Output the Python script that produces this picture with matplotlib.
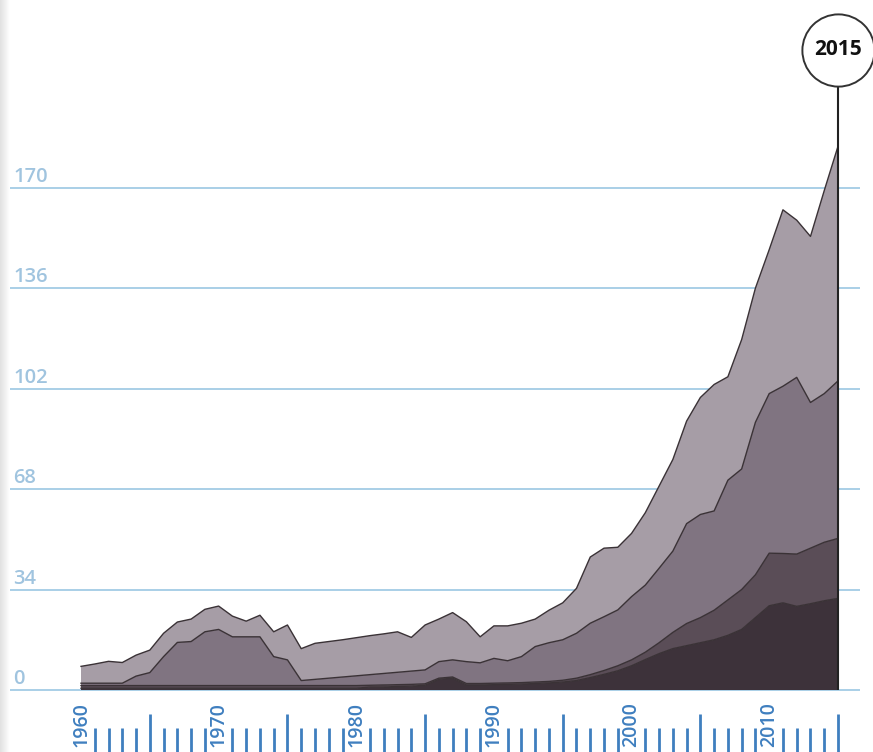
import numpy as np
import matplotlib
matplotlib.use('Agg')
import matplotlib.pyplot as plt

# data, one value per year, stacked bottom -> top
years = list(range(1960, 2016))

layer1 = [0.6, 0.6, 0.6, 0.6, 0.6, 0.6, 0.6, 0.6, 0.6, 0.6,
          0.6, 0.6, 0.6, 0.6, 0.6, 0.6, 0.6, 0.6, 0.6, 0.6,
          0.6, 1.0, 1.0, 1.2, 1.3, 1.6, 3.6, 4.0, 1.7, 1.7,
          1.8, 1.9, 2.0, 2.2, 2.4, 2.7, 3.2, 4.2, 5.3, 6.5,
          8.2, 10.3, 12.3, 14.0, 15.0, 16.0, 17.0, 18.5, 20.5, 24.5,
          28.5, 29.5, 28.3, 29.2, 30.2, 31.0]

layer2 = [0.9, 0.9, 0.9, 0.9, 0.9, 0.9, 0.9, 0.9, 0.9, 0.9,
          0.9, 0.9, 0.9, 0.9, 0.9, 0.9, 0.9, 0.9, 0.9, 0.9,
          0.9, 0.6, 0.7, 0.6, 0.6, 0.5, 0.4, 0.4, 0.5, 0.5,
          0.5, 0.5, 0.5, 0.5, 0.5, 0.6, 0.8, 1.0, 1.3, 1.7,
          2.0, 2.5, 3.7, 5.5, 7.5, 8.5, 10.0, 12.0, 13.5, 14.5,
          17.8, 16.7, 17.7, 18.8, 19.8, 20.3]

layer3 = [0.8, 0.8, 0.8, 0.8, 3.2, 4.4, 9.8, 14.6, 14.9, 18.2,
          19.0, 16.5, 16.5, 16.5, 9.8, 8.7, 1.7, 2.1, 2.5, 2.9,
          3.3, 3.6, 3.9, 4.2, 4.5, 4.7, 5.6, 5.8, 7.4, 7.0,
          8.4, 7.5, 8.8, 12.0, 13.1, 13.7, 15.2, 17.4, 18.2, 18.9,
          21.4, 22.7, 25.2, 27.5, 33.8, 34.9, 33.6, 40.5, 40.8, 51.6,
          54.0, 56.6, 59.8, 49.3, 50.3, 53.3]

layer4 = [5.7, 6.5, 7.4, 7.0, 7.1, 7.6, 7.9, 6.9, 7.6, 7.6,
          7.9, 7.0, 5.3, 7.3, 8.4, 11.8, 10.8, 12.2, 12.4, 12.6,
          12.9, 13.2, 13.4, 13.7, 11.4, 15.2, 14.4, 16.0, 13.5, 8.8,
          11.0, 11.8, 11.3, 9.3, 11.0, 12.5, 15.2, 22.4, 23.2, 21.2,
          21.4, 24.5, 27.8, 31.0, 34.7, 39.6, 42.8, 35.0, 43.8, 45.4,
          48.7, 59.7, 53.2, 56.2, 68.7, 79.4]

ytick_vals = [0, 34, 68, 102, 136, 170]
label_years = [1960, 1970, 1980, 1990, 2000, 2010]
highlight_year = 2015

layer_colors = ['#3d323a', '#5a4d57', '#807481', '#a69da6']
edge_color = '#3a3236'
grid_color = '#a9cfe7'
ylabel_color = '#a0c4df'
xlabel_color = '#3f7fbf'

W, H = 873, 752
fig = plt.figure(figsize=(W / 100, H / 100), dpi=100)

# pixel mapping of the reference: 1960 -> x 81, 2015 -> x 838, value 0 -> y 690
px_year = (838 - 81) / 55.0
px_unit = 2.955
ax = fig.add_axes([8 / W, 0, (860 - 8) / W, 1])
x0 = 1960 - (81 - 8) / px_year
x1 = 2015 + (860 - 838) / px_year
ax.set_xlim(x0, x1)
ax.set_ylim(-(H - 690) / px_unit, 690 / px_unit)
ax.axis('off')

# gridlines + labels
ax.hlines(ytick_vals, x0, x1, color=grid_color, lw=1.4, zorder=1)
for v in ytick_vals:
    ax.text(x0 + 5 / px_year, v + 6 / px_unit, str(v), ha='left', va='baseline',
            fontsize=14.5, fontweight='semibold', color=ylabel_color, family='Open Sans')

# stacked areas
layers = [layer1, layer2, layer3, layer4]
ax.stackplot(years, *layers, colors=layer_colors, linewidth=0, zorder=2)
cum = np.cumsum(np.array(layers), axis=0)
for row in cum:
    ax.plot(years, row, color=edge_color, lw=1.0, zorder=3)

# year ticks at the bottom
bottom = -(H - 690) / px_unit
for yr in years:
    if yr in label_years:
        ax.text(yr, -(702 - 690) / px_unit, str(yr), rotation=90, ha='center', va='top',
                fontsize=14, fontweight='semibold', color=xlabel_color, family='Open Sans',
                clip_on=False)
    elif yr % 5 == 0:
        ax.vlines(yr, bottom, -(714 - 690) / px_unit, color=xlabel_color, lw=2, clip_on=False)
    else:
        ax.vlines(yr, bottom, -(728 - 690) / px_unit, color=xlabel_color, lw=2, clip_on=False)

# highlight marker for the last year
circle_y = (690 - 50) / px_unit
ax.vlines(highlight_year, 0, circle_y, color='#222222', lw=1.5, zorder=4)
ax.plot([highlight_year], [circle_y], 'o', ms=52, mfc='white', mec='#333333', mew=1.4,
        zorder=5, clip_on=False)
ax.text(highlight_year, circle_y, str(highlight_year), ha='center', va='center',
        fontsize=15, fontweight='bold', family='Open Sans', color='#111111', zorder=6)

# grey shadow strip on the left edge
gax = fig.add_axes([0, 0, 10 / W, 1])
gax.imshow(np.linspace(0.88, 1.0, 40)[None, :], aspect='auto', cmap='gray', vmin=0, vmax=1)
gax.axis('off')

fig.savefig('out.png', dpi=100)
